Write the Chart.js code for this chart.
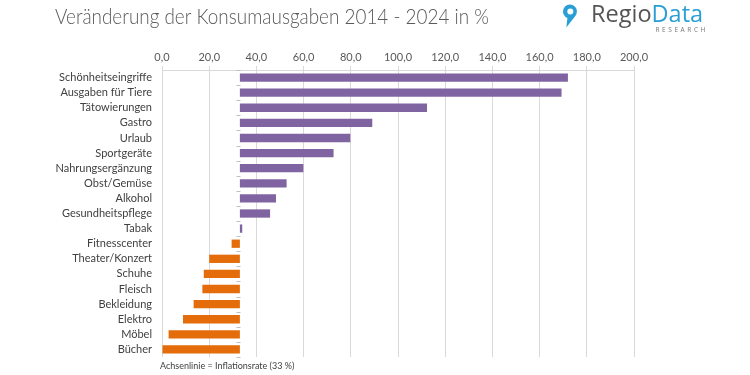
<!DOCTYPE html>
<html>
<head>
<meta charset="utf-8">
<script src="https://cdn.jsdelivr.net/npm/chart.js@4"></script>
<style>
html,body{margin:0;padding:0;background:#fff;}
#wrap{width:750px;height:375px;position:relative;}
</style>
</head>
<body>
<div id="wrap"><canvas id="c" width="750" height="375"></canvas></div>
<script>
const categories = ["Schönheitseingriffe","Ausgaben für Tiere","Tätowierungen","Gastro","Urlaub","Sportgeräte","Nahrungsergänzung","Obst/Gemüse","Alkohol","Gesundheitspflege","Tabak","Fitnesscenter","Theater/Konzert","Schuhe","Fleisch","Bekleidung","Elektro","Möbel","Bücher"];
const changes = [172.0,169.3,112.3,89.1,79.8,72.7,59.9,52.8,48.3,45.8,34.0,29.5,20.0,17.7,17.1,13.4,8.9,2.8,0.0];
const inflationRate = 33;
const xMin = 0, xMax = 200, xStep = 20;
const titleText = "Veränderung der Konsumausgaben 2014 - 2024 in %";
const footnoteText = "Achsenlinie = Inflationsrate (33 %)";

const PURPLE = "#8064a2", ORANGE = "#e46c0a";
const FONT = "Lato, 'Open Sans', sans-serif";

function fitText(ctx, text, x, y, targetW) {
  const w = ctx.measureText(text).width;
  ctx.save();
  ctx.translate(x, y);
  if (w > targetW) ctx.scale(targetW / w, 1);
  ctx.fillText(text, 0, 0);
  ctx.restore();
}

const decor = {
  id: 'decor',
  afterDraw(chart) {
    const ctx = chart.ctx;
    const xs = chart.scales.x, ys = chart.scales.y;
    ctx.save();
    // baseline tick marks
    ctx.strokeStyle = '#bfbfbf';
    ctx.lineWidth = 1;
    const bx = Math.round(xs.getPixelForValue(inflationRate)) + 0.5;
    const n = categories.length;
    const step = (ys.bottom - ys.top) / n;
    for (let i = 0; i <= n; i++) {
      const y = Math.round(ys.top + i * step) + 0.5;
      ctx.beginPath(); ctx.moveTo(bx - 4, y); ctx.lineTo(bx, y); ctx.stroke();
    }
    // title
    ctx.fillStyle = '#5a5a5a';
    ctx.font = '300 21px ' + FONT;
    ctx.textBaseline = 'middle';
    ctx.textAlign = 'left';
    fitText(ctx, titleText, 55, 17, 434);
    // footnote
    ctx.fillStyle = '#404040';
    ctx.font = '9px ' + FONT;
    ctx.fillText(footnoteText, 160, 366);
    // logo
    ctx.font = '400 23.5px "Open Sans", sans-serif';
    ctx.textBaseline = 'alphabetic';
    ctx.fillStyle = '#555555';
    ctx.fillText('Regio', 591, 22);
    const w = ctx.measureText('Regio').width;
    ctx.fillStyle = '#2a9fd6';
    ctx.fillText('Data', 591 + w, 22);
    ctx.font = '6.5px "Open Sans", sans-serif';
    ctx.fillStyle = '#777';
    if ('letterSpacing' in ctx) ctx.letterSpacing = '2.6px';
    ctx.textAlign = 'right';
    ctx.fillText('RESEARCH', 708, 32);
    if ('letterSpacing' in ctx) ctx.letterSpacing = '0px';
    // pin (teardrop with hole)
    ctx.fillStyle = '#2a9fd6';
    ctx.beginPath();
    ctx.arc(570, 11.5, 7, Math.PI * 0.62, Math.PI * 2.25, false);
    ctx.lineTo(566.3, 27.5);
    ctx.closePath();
    ctx.arc(570.3, 11.5, 3, 0, Math.PI * 2, true);
    ctx.fill('evenodd');
    ctx.restore();
  }
};

new Chart(document.getElementById('c'), {
  type: 'bar',
  data: {
    labels: categories,
    datasets: [{
      data: changes.map(v => [inflationRate, v]),
      backgroundColor: changes.map(v => v >= inflationRate ? PURPLE : ORANGE),
      borderWidth: 0,
      borderSkipped: false,
      barPercentage: 0.55,
      categoryPercentage: 1.0
    }]
  },
  options: {
    indexAxis: 'y',
    responsive: false,
    animation: false,
    devicePixelRatio: 1,
    layout: { padding: { left: 0, right: 116, top: 40, bottom: 18 } },
    plugins: { legend: { display: false }, tooltip: { enabled: false }, title: { display: false } },
    scales: {
      x: {
        position: 'top',
        min: xMin, max: xMax,
        afterFit(s) { s.height = 30; },
        ticks: {
          stepSize: xStep,
          color: '#595959',
          font: { family: FONT, size: 11 },
          padding: 2,
          callback: v => Number(v).toFixed(1).replace('.', ',')
        },
        grid: { color: '#d9d9d9', lineWidth: 1, drawTicks: true, tickLength: 4 },
        border: { display: true, color: '#d9d9d9' }
      },
      y: {
        afterFit(s) { s.width = 162; },
        ticks: {
          color: '#404040',
          font: { family: FONT, size: 11 },
          padding: 10,
          autoSkip: false
        },
        grid: { display: false, drawTicks: false },
        border: { display: false }
      }
    }
  },
  plugins: [decor]
});
</script>
</body>
</html>
